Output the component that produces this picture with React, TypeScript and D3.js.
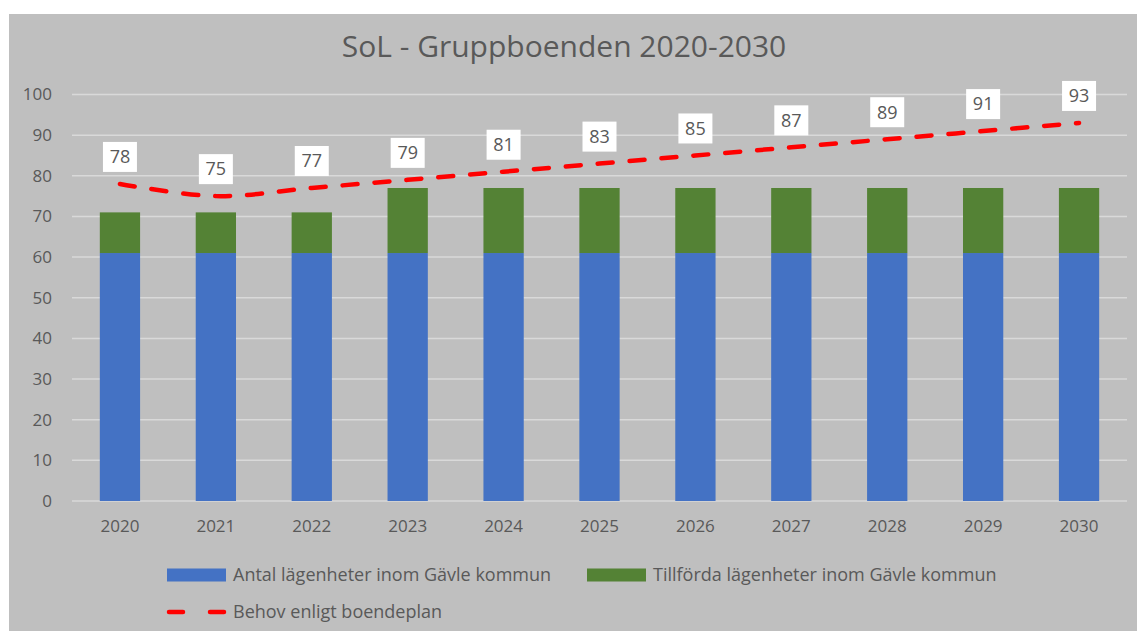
import { useEffect, useRef } from "react";
import * as d3 from "d3";

// chart data
const years = ["2020", "2021", "2022", "2023", "2024", "2025", "2026", "2027", "2028", "2029", "2030"];
const antal = [61, 61, 61, 61, 61, 61, 61, 61, 61, 61, 61];
const tillforda = [10, 10, 10, 16, 16, 16, 16, 16, 16, 16, 16];
const behov = [78, 75, 77, 79, 81, 83, 85, 87, 89, 91, 93];
const yTicks = [0, 10, 20, 30, 40, 50, 60, 70, 80, 90, 100];

const seriesNames = [
    "Antal lägenheter inom Gävle kommun",
    "Tillförda lägenheter inom Gävle kommun",
    "Behov enligt boendeplan",
];

const width = 1137;
const height = 631;
const margin = { top: 94.5, right: 10, bottom: 130, left: 72 };
const plotRight = 1127;
const plotBottom = 501;

const font = "'Open Sans', 'Noto Sans', sans-serif";
const textColor = "#595959";

const drawChart = (node: SVGSVGElement) => {
    const svg = d3.select(node);
    svg.selectAll("*").remove();

    // background
    svg.append("rect").attr("width", width).attr("height", height).attr("fill", "#ffffff");
    svg.append("rect")
        .attr("x", 9).attr("y", 14)
        .attr("width", width - 9).attr("height", height - 14)
        .attr("fill", "#bfbfbf");

    // title
    svg.append("text")
        .attr("x", 564).attr("y", 57)
        .attr("text-anchor", "middle")
        .attr("font-family", font)
        .attr("font-size", 30)
        .attr("fill", textColor)
        .text("SoL - Gruppboenden 2020-2030");

    const x = d3.scaleBand()
        .domain(years)
        .range([margin.left, plotRight])
        .paddingInner(0.58)
        .paddingOuter(0.29);

    const y = d3.scaleLinear()
        .domain([0, 100])
        .range([plotBottom, margin.top]);

    // gridlines
    svg.append("g")
        .selectAll("line")
        .data(yTicks)
        .join("line")
        .attr("x1", margin.left)
        .attr("x2", plotRight)
        .attr("y1", d => y(d))
        .attr("y2", d => y(d))
        .attr("stroke", "#d9d9d9")
        .attr("stroke-width", 1.5);

    // y tick labels
    svg.append("g")
        .attr("font-family", font)
        .attr("font-size", 17)
        .attr("fill", textColor)
        .attr("text-anchor", "end")
        .selectAll("text")
        .data(yTicks)
        .join("text")
        .attr("x", 52)
        .attr("y", d => y(d))
        .attr("dy", "0.35em")
        .text(d => d);

    // x tick labels
    svg.append("g")
        .attr("font-family", font)
        .attr("font-size", 17)
        .attr("fill", textColor)
        .attr("text-anchor", "middle")
        .selectAll("text")
        .data(years)
        .join("text")
        .attr("x", d => x(d)! + x.bandwidth() / 2)
        .attr("y", 532)
        .text(d => d);

    // stacked bars
    const rows = years.map((yr, i) => ({ year: yr, antal: antal[i], tillforda: tillforda[i] }));
    const stack = d3.stack<any>().keys(["antal", "tillforda"])(rows);
    const colors = ["#4472c4", "#548235"];

    svg.append("g")
        .selectAll("g")
        .data(stack)
        .join("g")
        .attr("fill", (_, i) => colors[i])
        .selectAll("rect")
        .data(d => d)
        .join("rect")
        .attr("x", d => x(d.data.year)!)
        .attr("width", x.bandwidth())
        .attr("y", d => y(d[1]))
        .attr("height", d => y(d[0]) - y(d[1]));

    // smoothed dashed line
    const line = d3.line<number>()
        .x((_, i) => x(years[i])! + x.bandwidth() / 2)
        .y(d => y(d))
        .curve(d3.curveCatmullRom.alpha(0.5));

    svg.append("path")
        .datum(behov)
        .attr("d", line)
        .attr("fill", "none")
        .attr("stroke", "#ff0000")
        .attr("stroke-width", 4.5)
        .attr("stroke-linecap", "round")
        .attr("stroke-dasharray", "15,17");

    // data labels
    const labels = svg.append("g")
        .selectAll("g")
        .data(behov)
        .join("g")
        .attr("transform", (d, i) => `translate(${x(years[i])! + x.bandwidth() / 2},${y(d) - 27})`);

    labels.append("rect")
        .attr("x", -17).attr("y", -15)
        .attr("width", 34).attr("height", 30)
        .attr("fill", "#ffffff");

    labels.append("text")
        .attr("text-anchor", "middle")
        .attr("dy", "0.35em")
        .attr("font-family", font)
        .attr("font-size", 18)
        .attr("fill", textColor)
        .text(d => d);

    // legend
    const legend = svg.append("g")
        .attr("font-family", font)
        .attr("font-size", 18)
        .attr("fill", textColor);

    const legendItems = [
        { name: seriesNames[0], x: 167, y: 575, type: "rect", color: colors[0] },
        { name: seriesNames[1], x: 587, y: 575, type: "rect", color: colors[1] },
        { name: seriesNames[2], x: 167, y: 612, type: "line", color: "#ff0000" },
    ];

    legendItems.forEach(item => {
        if (item.type === "rect") {
            legend.append("rect")
                .attr("x", item.x).attr("y", item.y - 6.5)
                .attr("width", 59).attr("height", 13)
                .attr("fill", item.color);
        } else {
            legend.append("line")
                .attr("x1", item.x + 2).attr("x2", item.x + 57)
                .attr("y1", item.y).attr("y2", item.y)
                .attr("stroke", item.color)
                .attr("stroke-width", 4.5)
                .attr("stroke-linecap", "round")
                .attr("stroke-dasharray", "14,27");
        }
        legend.append("text")
            .attr("x", item.x + 66)
            .attr("y", item.y)
            .attr("dy", "0.35em")
            .text(item.name);
    });
};

export default function App() {
    const ref = useRef<SVGSVGElement>(null);

    useEffect(() => {
        if (ref.current) drawChart(ref.current);
    }, []);

    return (
        <svg
            ref={ref}
            width={width}
            height={height}
            style={{ position: "absolute", left: 0, top: 0 }}
        />
    );
}
